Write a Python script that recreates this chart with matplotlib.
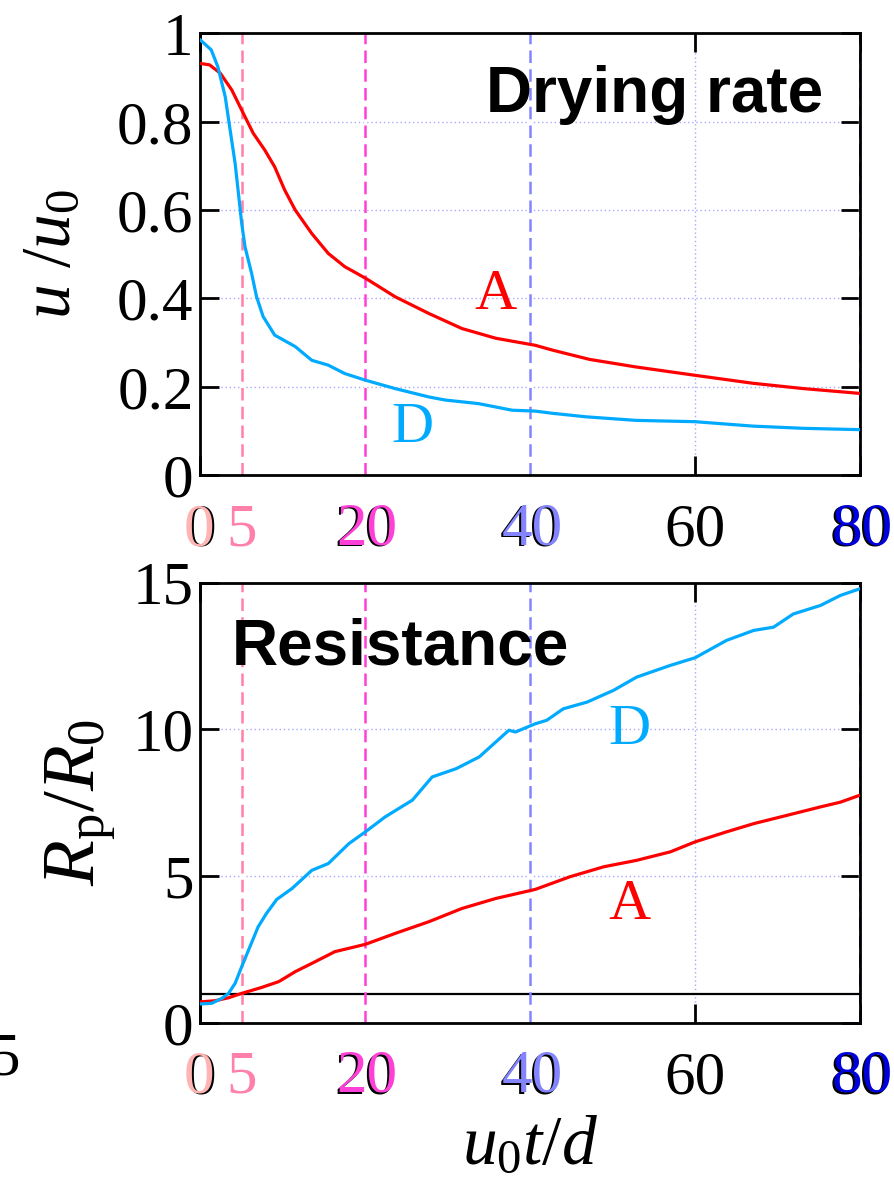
import matplotlib
matplotlib.use('Agg')
import matplotlib.pyplot as plt
from matplotlib.transforms import offset_copy

plt.rcParams['font.family'] = 'Liberation Serif'
plt.rcParams['mathtext.fontset'] = 'custom'
plt.rcParams['mathtext.rm'] = 'Liberation Serif'
plt.rcParams['mathtext.it'] = 'Liberation Serif:italic'

# drying rate u/u0
dA_x = [0, 1.1, 2.4, 3.8, 5.2, 6.4, 7.8, 9.0, 10.2, 11.5, 13.5, 15.5, 17.5, 20, 23.6,
        27.7, 31.7, 35.8, 40.6, 42.7, 47.2, 52.8, 60, 67, 73.1, 80]
dA_y = [0.932, 0.929, 0.910, 0.872, 0.819, 0.774, 0.736, 0.698, 0.646, 0.600, 0.547, 0.502,
        0.472, 0.446, 0.404, 0.366, 0.332, 0.310, 0.294, 0.283, 0.262, 0.245, 0.226, 0.208,
        0.196, 0.185]
dD_x = [0, 1.3, 2.1, 3.0, 3.6, 4.2, 4.65, 5.0, 5.4, 6.2, 6.8, 7.6, 9.0, 11.5, 13.5, 15.5,
        17.5, 20, 23.6, 27.7, 29.7, 33.7, 37.8, 40.6, 42.7, 46.8, 52.8, 60, 67, 73.1, 80]
dD_y = [0.985, 0.963, 0.925, 0.857, 0.781, 0.706, 0.630, 0.570, 0.517, 0.457, 0.404, 0.359,
        0.317, 0.291, 0.260, 0.249, 0.230, 0.215, 0.196, 0.177, 0.170, 0.162, 0.147, 0.145,
        0.140, 0.132, 0.124, 0.121, 0.111, 0.106, 0.103]

# resistance Rp/R0
rA_x = [0, 1.8, 3.4, 5.0, 7.4, 9.5, 11.5, 13.5, 16.3, 20, 23.6, 27.7, 31.7, 35.8, 40.6,
        44.8, 48.9, 52.9, 57.0, 60, 63.8, 67.1, 71.1, 75.2, 77.6, 80]
rA_y = [0.72, 0.76, 0.86, 1.01, 1.21, 1.41, 1.75, 2.03, 2.43, 2.68, 3.05, 3.45, 3.90, 4.24,
        4.55, 4.98, 5.32, 5.54, 5.83, 6.17, 6.51, 6.79, 7.07, 7.36, 7.52, 7.76]
rD_x = [0, 1.35, 2.6, 3.4, 4.2, 5.0, 6.0, 7.0, 8.0, 9.25, 11.1, 13.5, 15.5, 18.0, 20, 22.4,
        25.7, 28.1, 31.0, 33.8, 37.4, 38.2, 40.6, 42.0, 44.0, 46.9, 50.1, 52.9, 57.0, 60,
        63.8, 67.1, 69.5, 71.9, 75.2, 77.6, 80]
rD_y = [0.65, 0.67, 0.84, 1.01, 1.35, 1.92, 2.60, 3.28, 3.73, 4.21, 4.58, 5.20, 5.43, 6.11,
        6.51, 7.02, 7.59, 8.38, 8.66, 9.06, 9.97, 9.91, 10.19, 10.31, 10.70, 10.93, 11.33,
        11.78, 12.18, 12.44, 13.03, 13.37, 13.48, 13.93, 14.22, 14.56, 14.79]

xticks = [0, 20, 40, 60, 80]
marks = [5, 20, 40, 80]
mark_colors = ['#ff80a8', '#ff40d8', '#8484ff', '#0000dd']
red = '#ff0000'
blue = '#00aaff'

fig = plt.figure(figsize=(8.95, 11.79), dpi=100)
ax1 = fig.add_axes([0.224, 0.597, 0.737, 0.3746])
ax2 = fig.add_axes([0.224, 0.1323, 0.737, 0.3736])


def style(ax, yticks, ylabels):
    ax.set_xlim(0, 80)
    ax.set_xticks(xticks)
    ax.set_yticks(yticks)
    ax.set_yticklabels(ylabels)
    ax.grid(True, color='#a8a8ff', linestyle=(0, (1, 2)), linewidth=1.0, zorder=1)
    ax.tick_params(direction='in', length=14, width=2, top=True, right=True,
                   labelsize=44, pad=5)
    ax.tick_params(axis='x', pad=20)
    for s in ax.spines.values():
        s.set_linewidth(2)
    for x, c in zip(marks, mark_colors):
        ax.axvline(x, color='white', linewidth=2.5, zorder=2)
        ax.axvline(x, color=c, linestyle=(0, (5, 2.5)), linewidth=1.8, zorder=2.1)
    # coloured copies of the tick labels
    tr = offset_copy(ax.get_xaxis_transform(), fig=fig, x=2, y=1, units='dots')
    for x, c in zip([20, 40, 80], mark_colors[1:]):
        ax.text(x, -0.125, str(x), color=c, fontsize=44, ha='center', va='center',
                transform=tr)
    tr0 = offset_copy(ax.get_xaxis_transform(), fig=fig, x=-2, y=0, units='dots')
    ax.text(0, -0.125, '0', color='#ffb4b4', fontsize=44, ha='center', va='center',
            transform=tr0)
    ax.text(5, -0.125, '5', color=mark_colors[0], fontsize=44, ha='center', va='center',
            transform=ax.get_xaxis_transform())


style(ax1, [0, 0.2, 0.4, 0.6, 0.8, 1], ['0', '0.2', '0.4', '0.6', '0.8', '1'])
ax1.set_ylim(0, 1)
ax1.plot(dA_x, dA_y, color=red, lw=2.3, zorder=3)
ax1.plot(dD_x, dD_y, color=blue, lw=2.3, zorder=3)
ax1.set_ylabel(r'$u\ \mathrm{/}u_0$', fontsize=50)
ax1.yaxis.set_label_coords(-0.176, 0.5)
ax1.text(0.944, 0.822, 'Drying rate', family='Liberation Sans', weight='bold',
         fontsize=46, ha='right', va='baseline', transform=ax1.transAxes)
ax1.text(0.4465, 0.408, 'A', color=red, fontsize=42, ha='center', va='center',
         transform=ax1.transAxes)
ax1.text(0.322, 0.106, 'D', color=blue, fontsize=42, ha='center', va='center',
         transform=ax1.transAxes)

style(ax2, [0, 5, 10, 15], ['0', '5', '10', '15'])
ax2.set_ylim(0, 15)
ax2.axhline(1, color='black', lw=1.6, zorder=2)
ax2.plot(rA_x, rA_y, color=red, lw=2.3, zorder=3)
ax2.plot(rD_x, rD_y, color=blue, lw=2.3, zorder=3)
ax2.set_ylabel(r'$R_\mathrm{p}/R_0$', fontsize=54)
ax2.yaxis.set_label_coords(-0.126, 0.5)
ax2.set_xlabel(r'$u_0t/d$', fontsize=50, labelpad=6)
ax2.text(0.048, 0.813, 'Resistance', family='Liberation Sans', weight='bold',
         fontsize=46, ha='left', va='baseline', transform=ax2.transAxes)
ax2.text(0.651, 0.665, 'D', color=blue, fontsize=42, ha='center', va='center',
         transform=ax2.transAxes)
ax2.text(0.651, 0.268, 'A', color=red, fontsize=42, ha='center', va='center',
         transform=ax2.transAxes)

# clipped label from the neighbouring panel
fig.text(-0.012, 1 - 1060 / 1179, '5', fontsize=44, va='center')

fig.savefig('out.png', dpi=100)
